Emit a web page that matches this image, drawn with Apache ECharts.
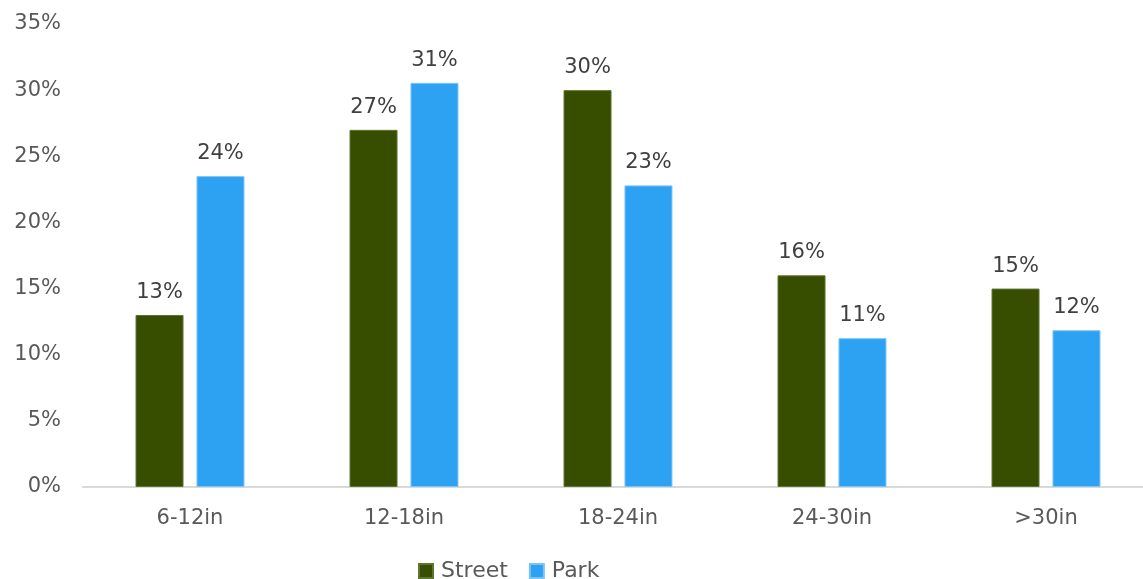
<!DOCTYPE html>
<html><head><meta charset="utf-8">
<script src="https://cdn.jsdelivr.net/npm/echarts@6/dist/echarts.min.js"></script>
<style>html,body{margin:0;padding:0;background:#fff;overflow:hidden;width:1143px;height:579px}#c{width:1153px;height:579px}</style>
</head><body><div id="c"></div>
<script>
const categories = ['6-12in','12-18in','18-24in','24-30in','>30in'];
const street = [13.0, 27.0, 30.0, 16.0, 15.0];
const park = [23.5, 30.55, 22.8, 11.25, 11.85];
const yTicks = [0,5,10,15,20,25,30,35];
const FONT = 'DejaVu Sans';
const chart = echarts.init(document.getElementById('c'));
const lbl = {show:true, position:'top', distance:12, color:'#404040', fontSize:21, fontFamily:FONT,
  formatter: p => Math.round(p.value) + '%'};
chart.setOption({
  animation:false,
  grid:{left:83, right:0, top:24, bottom:92, containLabel:false},
  legend:{bottom:-8, left:413, icon:'rect', itemWidth:14, itemHeight:14, itemGap:21,
    textStyle:{color:'#595959', fontSize:22, fontFamily:FONT, padding:[0,0,0,3]},
    data:['Street','Park']},
  xAxis:{type:'category', data:categories,
    axisLine:{lineStyle:{color:'#d9d9d9', width:2}}, axisTick:{show:false},
    axisLabel:{color:'#595959', fontSize:21, fontFamily:FONT, margin:21}},
  yAxis:{type:'value', min:yTicks[0], max:yTicks[yTicks.length-1], interval:5,
    splitLine:{show:false}, axisLine:{show:false}, axisTick:{show:false},
    axisLabel:{color:'#595959', fontSize:21, fontFamily:FONT, margin:22, formatter:v=>v+'%'}},
  series:[
    {name:'Street', type:'bar', data:street, barWidth:48, barGap:'27%',
     itemStyle:{color:'#374e00', borderColor:'#5e7530', borderWidth:1}, label:lbl},
    {name:'Park', type:'bar', data:park, barWidth:48,
     itemStyle:{color:'#2ea2f2', borderColor:'#7cc4f6', borderWidth:1}, label:lbl}
  ]
});
</script></body></html>
